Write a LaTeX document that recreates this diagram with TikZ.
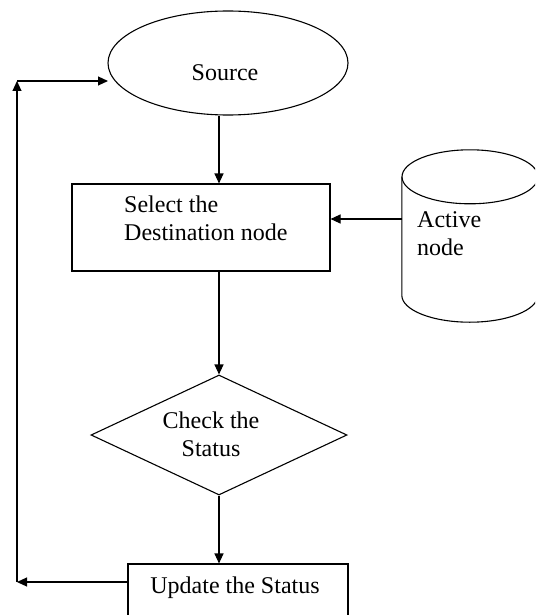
\documentclass[tikz,border=0pt]{standalone}
\usepackage{fontspec}
\setmainfont{Liberation Serif}
\usetikzlibrary{arrows.meta,shapes.geometric}
\begin{document}
\begin{tikzpicture}[x=1pt,y=-1pt,
  every node/.style={font=\fontsize{24}{28}\selectfont},
  shp/.style={draw, line width=1.1pt, inner sep=0pt},
  txt/.style={inner sep=0pt},
  arr/.style={-{Triangle[length=10pt,width=9pt]}, line width=1.1pt}]
\useasboundingbox (0,0) rectangle (535,615);
\clip (0,0) rectangle (535,615);
\fill[white] (0,0) rectangle (535,615);
% shapes
\node[shp, ellipse, minimum width=240pt, minimum height=104pt] (src) at (228,63) {};
\node[txt, anchor=north] (srctxt) at (225,64) {Source};
\node[shp, rectangle, minimum width=258pt, minimum height=87pt] (sel) at (201,227.5) {};
\node[txt, anchor=north west, align=left] (seltxt) at (124,196) {Select the\\Destination node};
\node[inner sep=0pt, minimum width=136pt, minimum height=172pt] (cyl) at (470,236) {};
\draw[line width=1.1pt] ([yshift=-27pt]cyl.north west) -- ([yshift=27pt]cyl.south west)
  arc[start angle=180, end angle=360, x radius=68pt, y radius=27pt] -- ([yshift=-27pt]cyl.north east);
\draw[line width=1.1pt] ([yshift=-27pt]cyl.north) ellipse[x radius=68pt, y radius=27pt];
\node[txt, anchor=north west, align=left] (cyltxt) at (417,211) {Active\\node};
\node[shp, diamond, minimum width=256pt, minimum height=120pt] (dia) at (219,435) {};
\node[txt, anchor=north, align=center] (diatxt) at (211,412) {Check the\\Status};
\node[shp, rectangle, minimum width=220pt, minimum height=60pt] (upd) at (238,594) {};
\node[txt, anchor=north] (updtxt) at (235,577) {Update the Status};
% coordinates
\coordinate (cylL) at (402,219);
\coordinate (lb) at (17,582);
\coordinate (lt) at (17,81);
\coordinate (srcL) at (108,81);
% connectors
\draw[arr] (src.south -| dia.north) -- (sel.north -| dia.north);
\draw[arr] (sel.south -| dia.north) -- (dia.north);
\draw[arr] (dia.south) -- (dia.south |- upd.north);
\draw[arr] (cylL) -- (cylL -| sel.east);
\draw[arr] (lb -| upd.west) -- (lb);
\draw[arr] (lb) -- (lt);
\draw[arr] (lt) -- (srcL);
\end{tikzpicture}
\end{document}
